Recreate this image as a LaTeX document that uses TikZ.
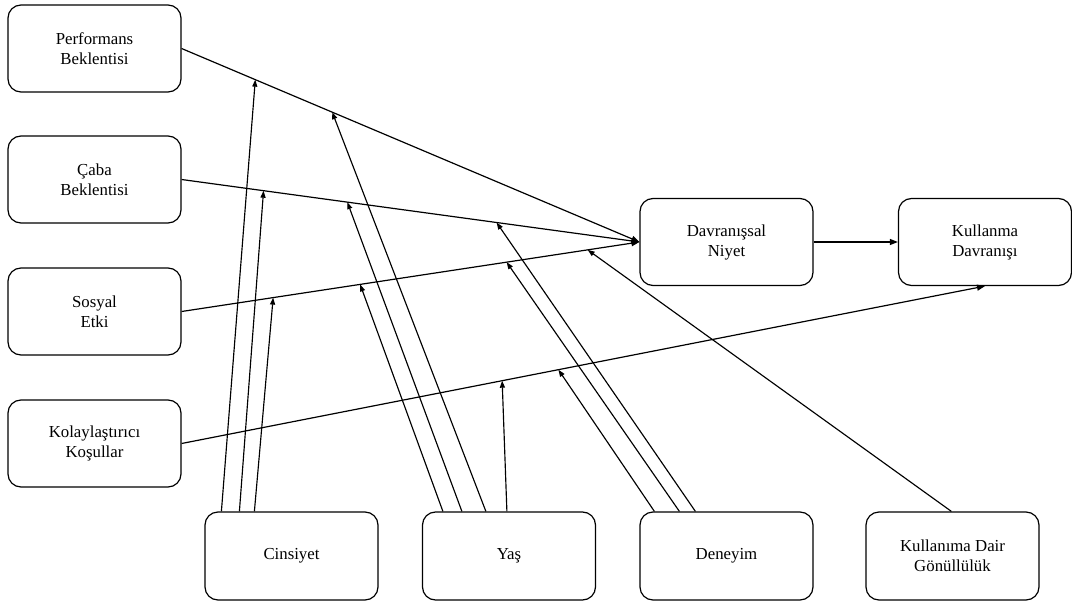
\documentclass[tikz,border=0pt]{standalone}
\usepackage{fontspec}
\setmainfont{Liberation Serif}
\usetikzlibrary{arrows.meta,calc}
\begin{document}
\begin{tikzpicture}[x=1pt,y=-1pt,
  box/.style={draw,line width=1.2pt,rounded corners=13pt,minimum width=173pt,minimum height=87pt,align=center,inner sep=0pt,font=\fontsize{16.8}{20}\selectfont},
  conn/.style={line width=1.2pt,-{Triangle[length=8pt,width=6pt]}},
  mod/.style={line width=1.15pt,-{Triangle[length=7pt,width=5pt]}}]
\useasboundingbox (0,0) rectangle (1072,605);
\node[box] (P) at (94.5,48.5) {Performans\\Beklentisi};
\node[box] (C) at (94.5,179.5) {Çaba\\Beklentisi};
\node[box] (S) at (94.5,311.5) {Sosyal\\Etki};
\node[box] (K) at (94.5,443.5) {Kolaylaştırıcı\\Koşullar};
\node[box,minimum height=88pt] (G) at (291.5,556) {Cinsiyet};
\node[box,minimum height=88pt] (Y) at (509,556) {Yaş};
\node[box,minimum height=88pt] (D) at (726.5,556) {Deneyim};
\node[box,minimum height=88pt] (V) at (952.5,556) {Kullanıma Dair\\Gönüllülük};
\node[box] (N) at (726.5,242) {Davranışsal\\Niyet};
\node[box] (U) at (985,242) {Kullanma\\Davranışı};
% main paths
\draw[conn] (P.east) -- (N.west) coordinate[pos=0.161] (p1) coordinate[pos=0.329] (p2);
\draw[conn] (C.east) -- (N.west) coordinate[pos=0.179] (c1) coordinate[pos=0.362] (c2) coordinate[pos=0.688] (c3);
\draw[conn] (S.east) -- (N.west) coordinate[pos=0.2] (s1) coordinate[pos=0.39] (s2) coordinate[pos=0.71] (s3) coordinate[pos=0.887] (s4);
\draw[conn] (K.east) -- (U.south) coordinate[pos=0.399] (k1) coordinate[pos=0.469] (k2);
\draw[conn] (N.east) -- (U.west);
% start points on moderators
\coordinate (g1) at ($(G.north west)+(17,0)$);
\coordinate (g2) at ($(G.north west)+(35,0)$);
\coordinate (g3) at ($(G.north west)+(50,0)$);
\coordinate (y1) at ($(Y.north west)+(21,0)$);
\coordinate (y2) at ($(Y.north west)+(40,0)$);
\coordinate (y3) at ($(Y.north west)+(64,0)$);
\coordinate (y4) at ($(Y.north west)+(85,0)$);
\coordinate (d1) at ($(D.north west)+(15,0)$);
\coordinate (d2) at ($(D.north west)+(40,0)$);
\coordinate (d3) at ($(D.north west)+(56,0)$);
\coordinate (v1) at ($(V.north west)+(86,0)$);
% moderator arrows
\draw[mod] (g1) -- (p1);
\draw[mod] (g2) -- (c1);
\draw[mod] (g3) -- (s1);
\draw[mod] (y1) -- (s2);
\draw[mod] (y2) -- (c2);
\draw[mod] (y3) -- (p2);
\draw[mod] (y4) -- (k1);
\draw[mod] (d1) -- (k2);
\draw[mod] (d2) -- (s3);
\draw[mod] (d3) -- (c3);
\draw[mod] (v1) -- (s4);
\end{tikzpicture}
\end{document}
